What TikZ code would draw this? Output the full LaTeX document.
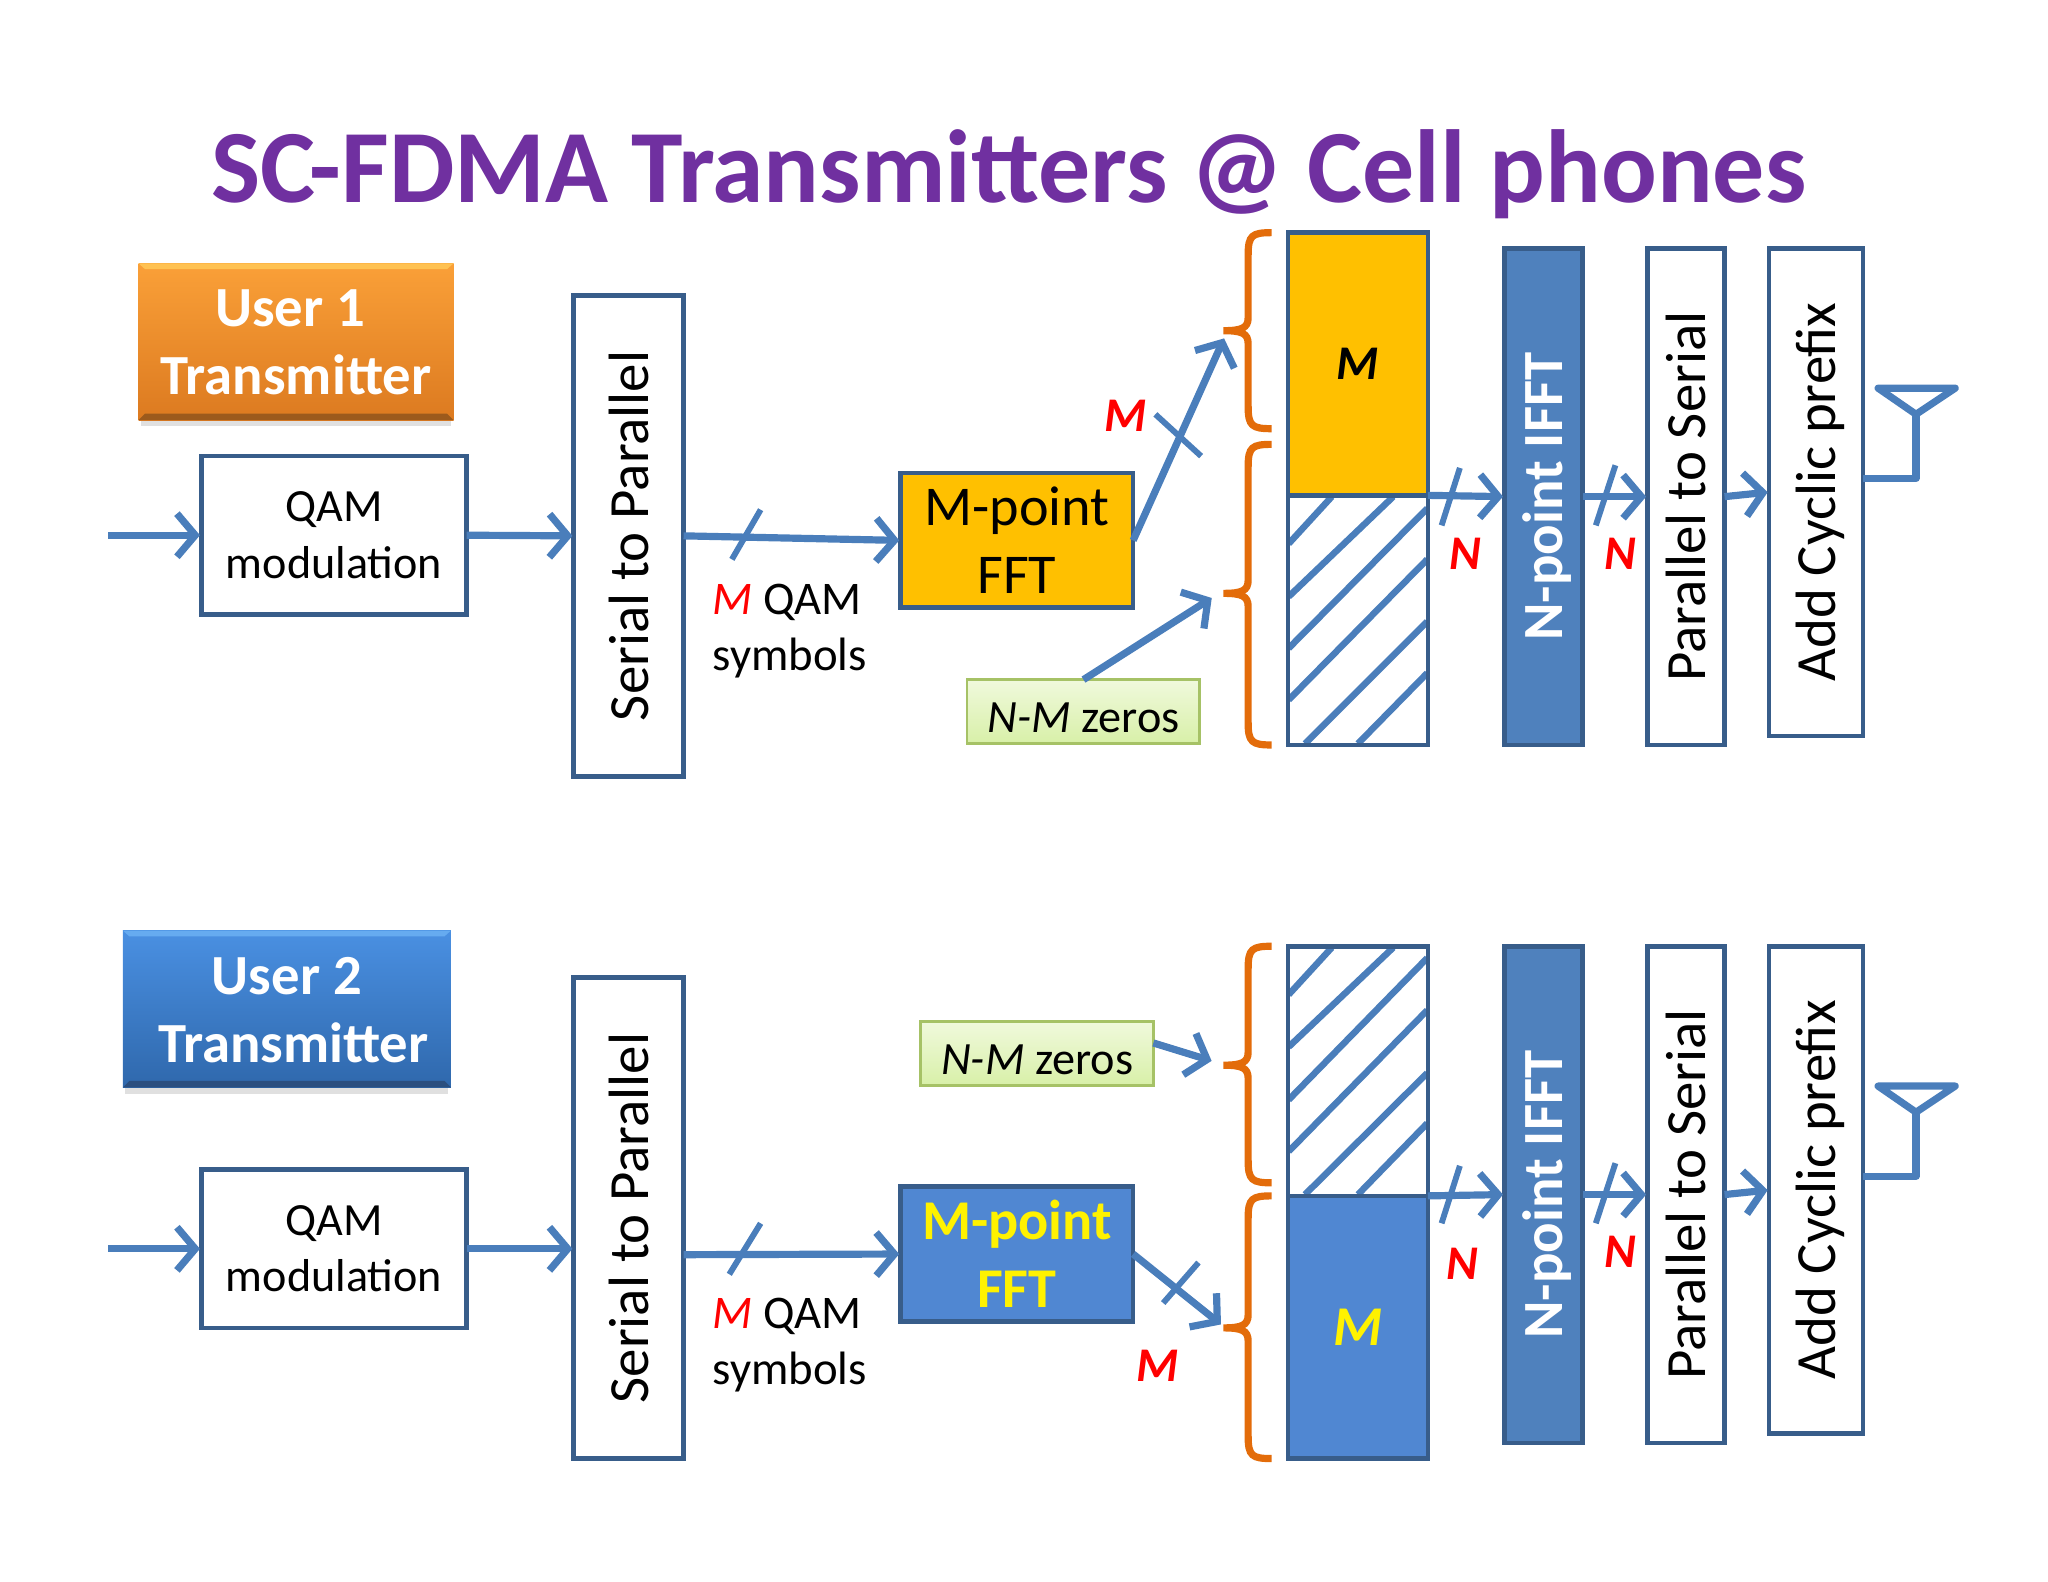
\documentclass[tikz,border=0pt]{standalone}
\usepackage{fontspec}
\setmainfont{Carlito}
\usetikzlibrary{arrows.meta}
\definecolor{purpletitle}{HTML}{7030A0}
\definecolor{gold}{HTML}{FFC000}
\definecolor{wireblue}{HTML}{4A7EBB}
\definecolor{edgeblue}{HTML}{385D8A}
\definecolor{ifftblue}{HTML}{4F81BD}
\definecolor{cellblue}{HTML}{5087D2}
\definecolor{braceorange}{HTML}{E36C0A}
\definecolor{zeroedge}{HTML}{A6C266}
\definecolor{zerotop}{HTML}{F0F9DC}
\definecolor{zerobot}{HTML}{D8F0A8}
\definecolor{orangetop}{HTML}{FAA038}
\definecolor{orangebot}{HTML}{DC7A20}
\definecolor{orangelit}{HTML}{FFC252}
\definecolor{orangedim}{HTML}{9C5A1C}
\definecolor{bluetop}{HTML}{4A90E2}
\definecolor{bluebot}{HTML}{2F68AC}
\definecolor{bluelit}{HTML}{66ABF0}
\definecolor{bluedim}{HTML}{2B4F7F}
\tikzset{
    box/.style={draw=edgeblue,line width=3.5pt,fill=white,outer sep=0pt,inner sep=0pt,align=center},
    qam/.style={box,minimum width=203pt,minimum height=121pt,font=\fontsize{35.3}{43}\selectfont},
    fft/.style={box,minimum width=178pt,minimum height=103pt,font=\fontsize{43}{52}\selectfont},
    tall/.style={box,font=\fontsize{43.5}{48}\selectfont},
    cell/.style={box,minimum width=107pt},
    user/.style={outer sep=0pt,inner sep=0pt,align=center,minimum width=241pt,minimum height=120pt,
        text=white,font=\bfseries\fontsize{43.4}{52}\selectfont},
    zeros/.style={draw=zeroedge,line width=2pt,top color=zerotop,bottom color=zerobot,outer sep=0pt,inner sep=0pt,
        minimum width=178pt,minimum height=49pt,font=\fontsize{35.4}{40}\selectfont},
    wire/.style={draw=wireblue,line width=5.5pt,line join=round},
    arrow/.style={wire,shorten >=1pt,-{Straight Barb[length=14pt,width=33pt,line width=5.5pt]}},
    tick/.style={draw=wireblue,line width=4.5pt},
    hatch/.style={draw=wireblue,line width=5pt},
    brace/.style={draw=braceorange,line width=5.5pt},
    count/.style={text=red,font=\bfseries\itshape\fontsize{37}{40}\selectfont},
    note/.style={align=left,anchor=west,inner sep=0pt,font=\fontsize{35.8}{43}\selectfont},
}
\newcommand{\sideways}[1]{\rotatebox{90}{#1}}
\begin{document}
\begin{tikzpicture}[x=1pt,y=-1pt]
    \useasboundingbox (0,0) rectangle (1567,1210.4);

    \node [text=purpletitle,font=\bfseries\fontsize{79.5}{84}\selectfont] (title) at (772,133) {SC-FDMA Transmitters @ Cell phones};

    \fill [black!12] (108,321) rectangle (345,326);
    \node [user,top color=orangetop,bottom color=orangebot] (user1) at (226.5,261.5) {};
    \fill [orangelit] (106,201.5) -- (347,201.5) -- (342,206) -- (111,206) -- cycle;
    \fill [orangedim] (106,321.5) -- (347,321.5) -- (342,316.5) -- (111,316.5) -- cycle;
    \node [user] (usertext1) at (226.5,262) {User 1\hspace*{9pt}\\Transmitter};

    \coordinate (in1) at (83,409.5);
    \node [qam] (qam1) at (255.5,409.5) {QAM\\modulation};
    \node [tall,minimum width=84pt,minimum height=368pt] (s2p1) at (481,410) {\sideways{Serial to Parallel}};
    \node [fft,fill=gold] (fft1) at (778,413.5) {M-point\\FFT};
    \node [note] (sym1) at (545,483) {{\color{red}\itshape M} QAM\\symbols};
    \node [count] (cm1) at (861,318) {M};

    \draw [arrow] (in1) -- (qam1.west);
    \draw [arrow] (qam1.east) -- (s2p1.west);
    \draw [arrow] (s2p1.east) -- (fft1.west);
    \draw [tick] (560,428) -- (582,390);

    \coordinate (tipa1) at (937,258);
    \coordinate (tipb1) at (928,457);
    \draw [arrow] (fft1.east) -- (tipa1);
    \draw [tick] (884,317) -- (919,349);

    \draw [brace] (973,178) .. controls (958,178) and (955,180) .. (955,195) -- (955,243) .. controls (955,251) and (950,253) .. (936,253) .. controls (950,253) and (955,255) .. (955,263) -- (955,311) .. controls (955,326) and (958,328) .. (973,328);
    \draw [brace] (973,340) .. controls (958,340) and (955,342) .. (955,357) -- (955,444) .. controls (955,452) and (950,454) .. (936,454) .. controls (950,454) and (955,456) .. (955,464) -- (955,553) .. controls (955,568) and (958,570) .. (973,570);

    \node [zeros] (zeros1) at (829,544.5) {\rule{0pt}{32pt}\itshape N-M\upshape{} zeros};
    \draw [arrow] (zeros1.north) -- (tipb1);

    \node [cell,fill=gold,minimum height=201pt,font=\bfseries\itshape\fontsize{37}{40}\selectfont] (data1) at (1039,278.5) {M};
    \draw [hatch] (1019,380) -- (986,416) (1066,380) -- (986,456.5) (1092,389) -- (986,496) (1092,428) -- (986,535.5) (1092,475.5) -- (998.5,569) (1092,515) -- (1039,569);
    \node [cell,fill=none,minimum height=191pt] (pad1) at (1039,474.5) {};

    \node [tall,fill=ifftblue,text=white,minimum width=60pt,minimum height=380pt,font=\bfseries\fontsize{43.5}{48}\selectfont] (ifft1) at (1181,380) {\hspace*{6pt}\sideways{N-point IFFT}};
    \node [tall,minimum width=59pt,minimum height=380pt] (p2s1) at (1290,380) {\sideways{Parallel to Serial}};
    \node [tall,minimum width=72pt,minimum height=373pt] (acp1) at (1389.5,376.5) {\hspace*{6pt}\sideways{Add Cyclic prefix}};

    \draw [arrow] (pad1.north east) -- (ifft1.west);
    \draw [tick] (1103,402) -- (1117,358);
    \node [count] (cn1) at (1121,424) {N};
    \draw [arrow] (ifft1.east) -- (p2s1.west);
    \draw [tick] (1221,402) -- (1236,356);
    \node [count] (cn2) at (1240,424) {N};
    \draw [arrow] (p2s1.east) -- (acp1.west);

    \coordinate (ant1) at (1466,366);
    \draw [wire] (acp1.east |- ant1) -- (ant1) -- (1466,317);
    \draw [wire] (1437,297) -- (1496,297) -- (1466,317) -- cycle;

    \fill [black!12] (96,832) rectangle (343,837);
    \node [user,minimum width=251pt,top color=bluetop,bottom color=bluebot] (user2) at (219.5,772) {};
    \fill [bluelit] (94,712) -- (345,712) -- (340,716.5) -- (99,716.5) -- cycle;
    \fill [bluedim] (94,832) -- (345,832) -- (340,827) -- (99,827) -- cycle;
    \node [user,minimum width=251pt] (usertext2) at (219.5,772.5) {User 2\\\hspace*{10pt}Transmitter};

    \coordinate (in2) at (83,955.5);
    \node [qam] (qam2) at (255.5,955.5) {QAM\\modulation};
    \node [tall,minimum width=84pt,minimum height=368pt] (s2p2) at (481,932) {\sideways{Serial to Parallel}};
    \node [fft,fill=cellblue,text=yellow,font=\bfseries\fontsize{43}{52}\selectfont] (fft2) at (778,959.5) {M-point\\FFT};
    \node [note] (sym2) at (545,1029) {{\color{red}\itshape M} QAM\\symbols};
    \node [count] (cm2) at (886,1045) {M};

    \draw [arrow] (in2) -- (qam2.west);
    \draw [arrow] (qam2.east) -- (qam2.east -| s2p2.west);
    \draw [arrow] ([yshift=-28pt]s2p2.east) -- (fft2.west);
    \draw [tick] (558,975) -- (582,936);

    \coordinate (tipa2) at (935,1014);
    \coordinate (tipb2) at (928,812);
    \draw [arrow] (fft2.east) -- (tipa2);
    \draw [tick] (917,966) -- (890,997);

    \draw [brace] (973,724) .. controls (958,724) and (955,726) .. (955,741) -- (955,805) .. controls (955,813) and (950,815) .. (936,815) .. controls (950,815) and (955,817) .. (955,825) -- (955,888) .. controls (955,903) and (958,905) .. (973,905);
    \draw [brace] (973,915) .. controls (958,915) and (955,917) .. (955,932) -- (955,1006) .. controls (955,1014) and (950,1016) .. (936,1016) .. controls (950,1016) and (955,1018) .. (955,1026) -- (955,1099) .. controls (955,1114) and (958,1116) .. (973,1116);

    \node [zeros] (zeros2) at (793.5,806) {\rule{0pt}{32pt}\itshape N-M\upshape{} zeros};
    \draw [arrow] ([yshift=8pt]zeros2.east) -- (tipb2);

    \draw [hatch] (1019,725) -- (986,761) (1066,725) -- (986,801) (1092,733) -- (986,841.5) (1092,773) -- (986,881) (1092,821) -- (998.5,914) (1092,859.5) -- (1039,914);
    \node [cell,fill=none,minimum height=191pt] (pad2) at (1039,819.5) {};
    \node [cell,fill=cellblue,minimum height=201pt,text=yellow,font=\bfseries\itshape\fontsize{43}{44}\selectfont] (data2) at (1039,1015.5) {M};

    \node [tall,fill=ifftblue,text=white,minimum width=60pt,minimum height=380pt,font=\bfseries\fontsize{43.5}{48}\selectfont] (ifft2) at (1181,914) {\hspace*{6pt}\sideways{N-point IFFT}};
    \node [tall,minimum width=59pt,minimum height=380pt] (p2s2) at (1290,914) {\sideways{Parallel to Serial}};
    \node [tall,minimum width=72pt,minimum height=373pt] (acp2) at (1389.5,910.5) {\hspace*{6pt}\sideways{Add Cyclic prefix}};

    \draw [arrow] (data2.north east) -- (ifft2.west);
    \draw [tick] (1103,936) -- (1117,892);
    \node [count] (cn3) at (1119,967) {N};
    \draw [arrow] (ifft2.east) -- (p2s2.west);
    \draw [tick] (1221,936) -- (1236,890);
    \node [count] (cn4) at (1240,958) {N};
    \draw [arrow] (p2s2.east) -- (acp2.west);

    \coordinate (ant2) at (1466,900);
    \draw [wire] (acp2.east |- ant2) -- (ant2) -- (1466,851);
    \draw [wire] (1437,831) -- (1496,831) -- (1466,851) -- cycle;
\end{tikzpicture}
\end{document}
